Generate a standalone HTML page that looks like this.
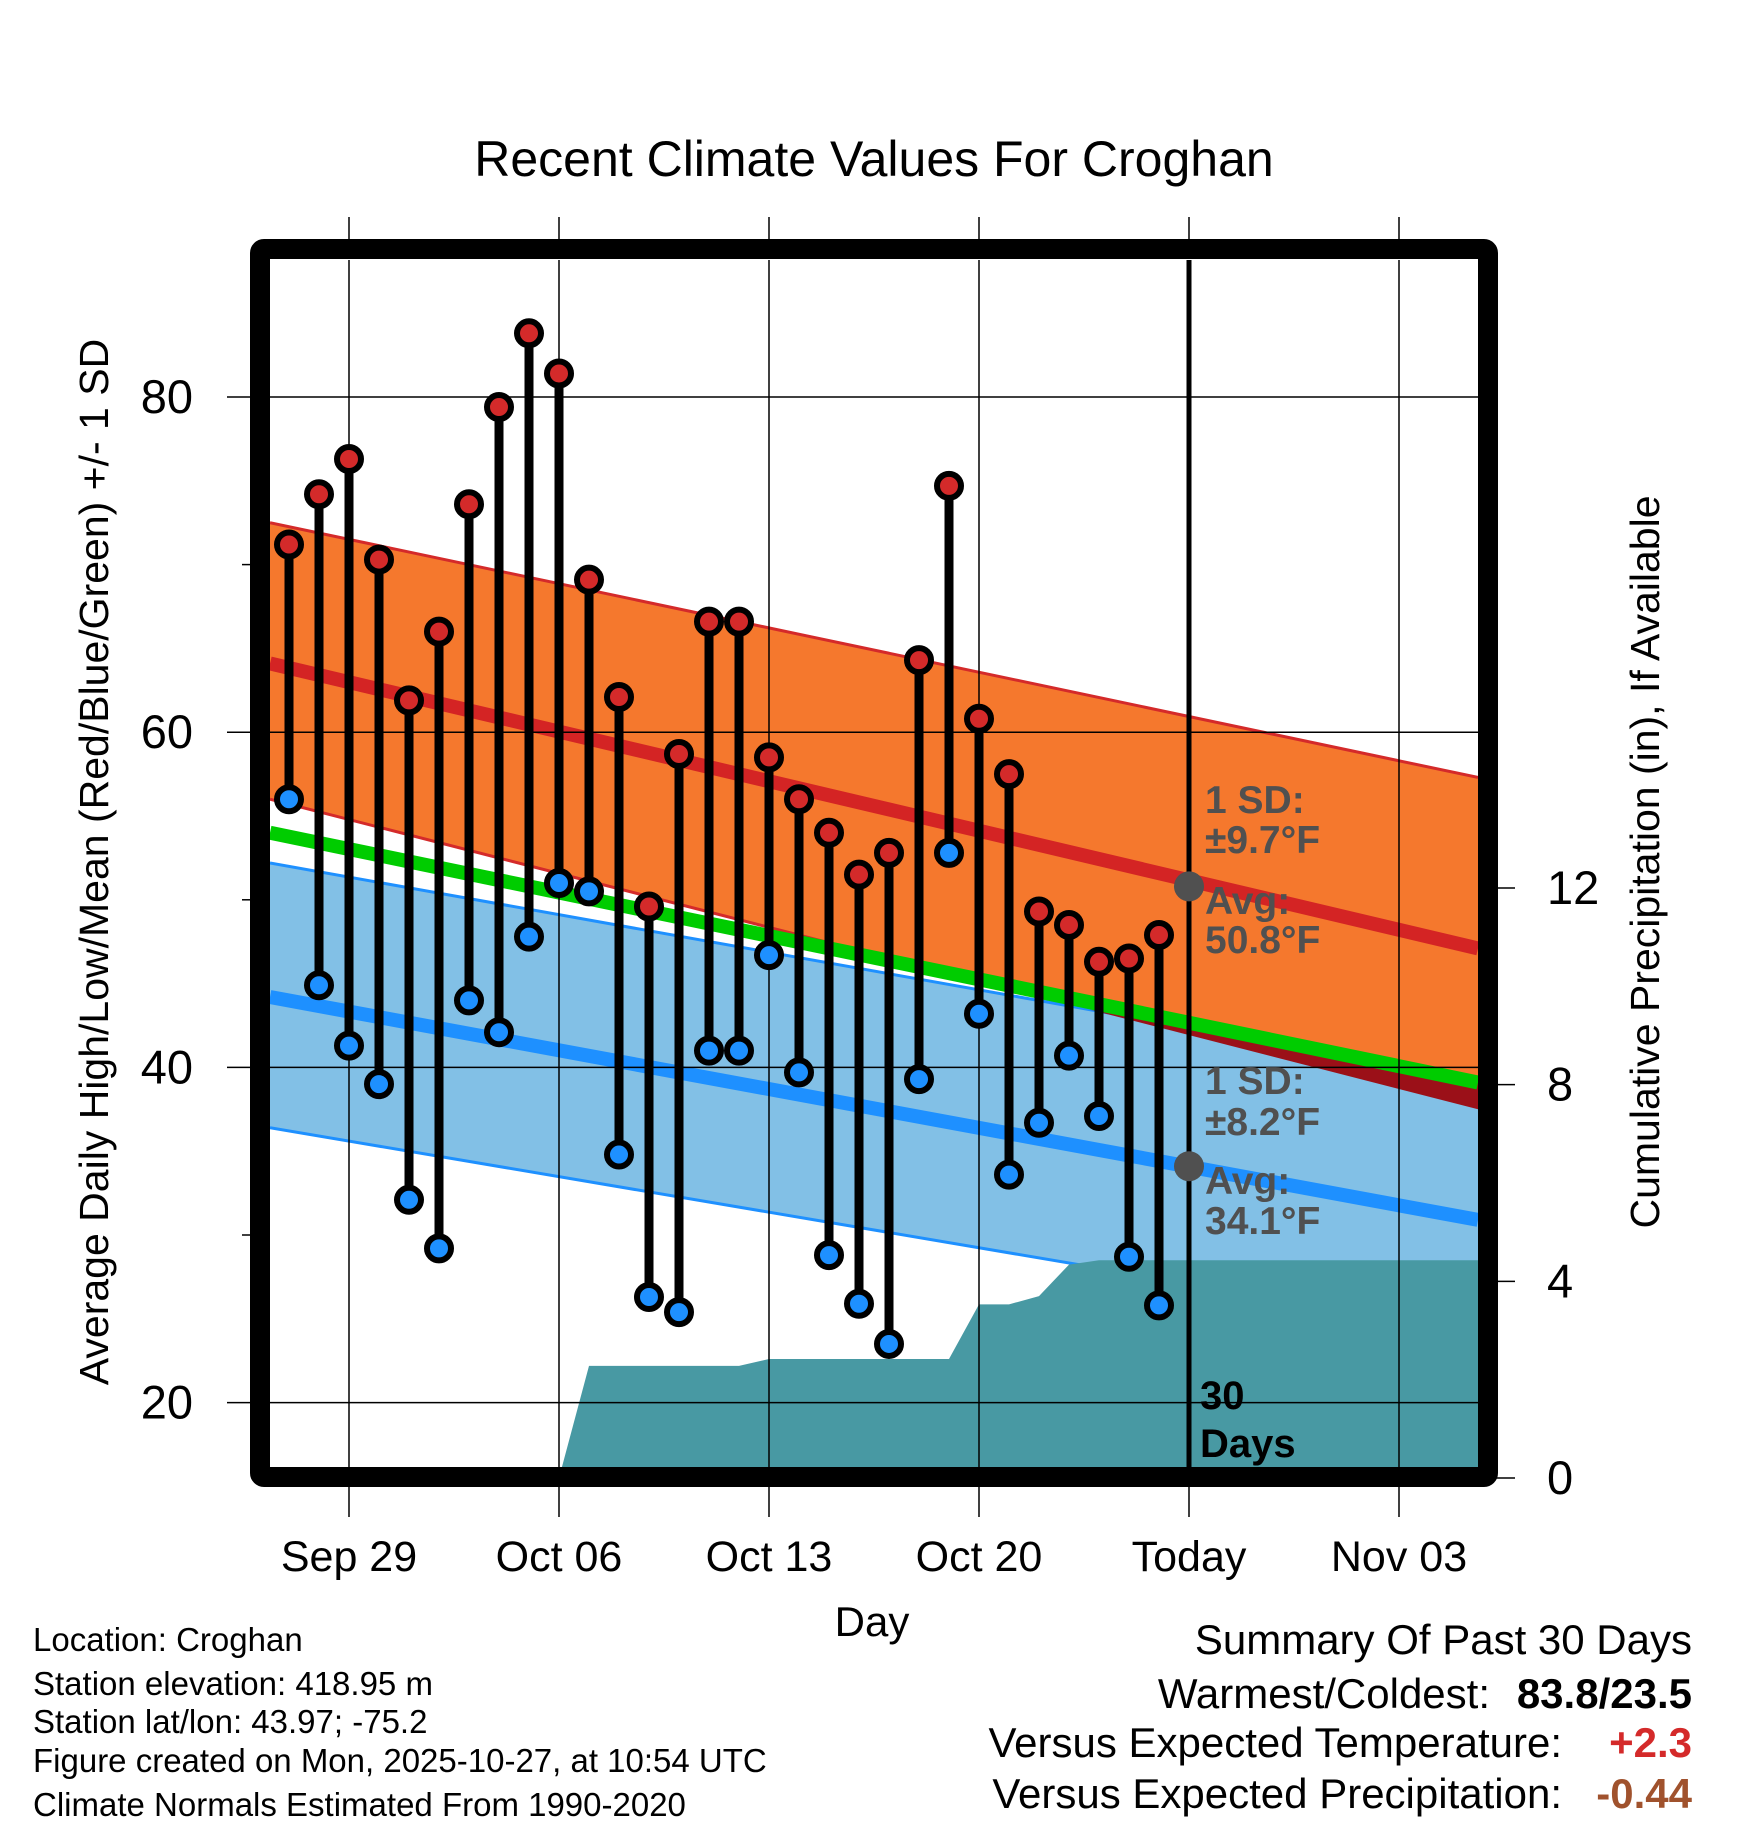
<!DOCTYPE html>
<html><head><meta charset="utf-8"><style>
html,body{margin:0;padding:0;background:#fff}
svg{display:block;font-family:"Liberation Sans",Arial,sans-serif}
</style></head><body>
<svg id="chart" width="1748" height="1828" viewBox="0 0 1748 1828" xmlns="http://www.w3.org/2000/svg">
<text x="874" y="176" font-size="50" text-anchor="middle">Recent Climate Values For Croghan</text>
<g id="plot"></g>
<text transform="translate(108,862) rotate(-90)" font-size="41" text-anchor="middle">Average Daily High/Low/Mean (Red/Blue/Green) +/- 1 SD</text>
<text transform="translate(1659,862) rotate(-90)" font-size="41" text-anchor="middle">Cumulative Precipitation (in), If Available</text>
<text x="872" y="1636" font-size="42" text-anchor="middle">Day</text>
<g font-size="33">
<text x="33" y="1651">Location: Croghan</text>
<text x="33" y="1695">Station elevation: 418.95 m</text>
<text x="33" y="1733">Station lat/lon: 43.97; -75.2</text>
<text x="33" y="1772">Figure created on Mon, 2025-10-27, at 10:54 UTC</text>
<text x="33" y="1816">Climate Normals Estimated From 1990-2020</text>
</g>
<g font-size="42" text-anchor="end">
<text x="1692" y="1654">Summary Of Past 30 Days</text>
<text x="1490" y="1708">Warmest/Coldest:</text>
<text x="1692" y="1708" font-weight="bold">83.8/23.5</text>
<text x="1562" y="1757">Versus Expected Temperature:</text>
<text x="1692" y="1757" font-weight="bold" fill="#d42a2a">+2.3</text>
<text x="1562" y="1808">Versus Expected Precipitation:</text>
<text x="1692" y="1808" font-weight="bold" fill="#a0522d">-0.44</text>
</g>
</svg>
<script>
const highs=[71.2,74.2,76.3,70.3,61.9,66.0,73.6,79.4,83.8,81.4,69.1,62.1,49.6,58.7,66.6,66.6,58.5,56.0,54.0,51.5,52.8,64.3,74.7,60.8,57.5,49.3,48.5,46.3,46.5,47.9];
const lows=[56.0,44.9,41.3,39.0,32.1,29.2,44.0,42.1,47.8,51.0,50.5,34.8,26.3,25.4,41.0,41.0,46.7,39.7,28.8,25.9,23.5,39.3,52.8,43.2,33.6,36.7,40.7,37.1,28.7,25.8];
const precip=[0,0,0,0,0,0,0,0,0,0,2.28,2.28,2.28,2.28,2.28,2.28,2.42,2.42,2.42,2.42,2.42,2.42,2.42,3.53,3.53,3.70,4.34,4.43,4.43,4.43];
// normals at [left edge, right edge] of plot
const normHigh=[64.1,47.1];
const normHighUpper=[72.5,57.3];
const normHighLower=[56.0,37.5];
const normLow=[44.2,30.9];
const normLowUpper=[52.2,39.3];
const normLowLower=[36.4,24.2];
const normMean=[54.0,39.1];
const todayHigh=50.8, todayLow=34.1;
const xTickDays=[2,9,16,23,30,37];
const xTickLabels=["Sep 29","Oct 06","Oct 13","Oct 20","Today","Nov 03"];
const yTicks=[20,40,60,80];
const yMinor=[30,50,70];
const pTicks=[0,4,8,12];

const NS="http://www.w3.org/2000/svg";
const L=270,R=1478,T=260,B=1468;
const X=d=>289+d*30;
const Y=v=>397+(80-v)*16.76;
const P=v=>1478-v*49.17;
const d0=(L-289)/30, d1=(R-289)/30, today=30;
const at=(arr,d)=>arr[0]+(arr[1]-arr[0])*(d-d0)/(d1-d0);
const plot=document.getElementById('plot');
function mk(tag,attrs,parent){const e=document.createElementNS(NS,tag);for(const k in attrs)e.setAttribute(k,attrs[k]);(parent||plot).appendChild(e);return e;}
const pts=(arr)=>arr.map(p=>p[0].toFixed(1)+','+p[1].toFixed(1)).join(' ');
const band=(up,lo,fill,g)=>mk('polygon',{points:pts([[X(d0),Y(up[0])],[X(d1),Y(up[1])],[X(d1),Y(lo[1])],[X(d0),Y(lo[0])]]),fill:fill},g);
const ln=(a,col,w,g)=>mk('line',{x1:X(d0),y1:Y(a[0]),x2:X(d1),y2:Y(a[1]),stroke:col,'stroke-width':w},g);

const clip=mk('clipPath',{id:'pc'});mk('rect',{x:L,y:T,width:R-L,height:B-T},clip);
const g=mk('g',{'clip-path':'url(#pc)'});
let e=band(normHighUpper,normHighLower,'#f5782d',g);


ln(normHighUpper,'#d42a2a',3,g);ln(normHighLower,'#d42a2a',3,g);
e=band(normLowUpper,normLowLower,'#82c0e6',g);


ln(normLowUpper,'#1e90ff',3,g);ln(normLowLower,'#1e90ff',3,g);
const a0=normHighLower[0]-normLowUpper[0], a1=normHighLower[1]-normLowUpper[1];
if(a1<0){const t=a0>0?a0/(a0-a1):0;const ds=d0+t*(d1-d0);
e=mk('polygon',{points:pts([[X(ds),Y(at(normLowUpper,ds))],[X(d1),Y(normLowUpper[1])],[X(d1),Y(normHighLower[1])],[X(ds),Y(at(normHighLower,ds))]]),fill:'#9b1018'},g);

}
const pp=[[X(d0),P(0)]];
precip.forEach((v,i)=>pp.push([X(i),P(v)]));
pp.push([X(d1),P(precip[precip.length-1])],[X(d1),P(0)]);
e=mk('polygon',{points:pts(pp),fill:'#4899a3'},g);


e=ln(normMean,'#00cc00',14,g);


e=ln(normHigh,'#d42424',14,g);


e=ln(normLow,'#1e90ff',14,g);


yTicks.forEach(v=>{if(Y(v)>T&&Y(v)<B){e=mk('line',{x1:L,y1:Y(v),x2:R,y2:Y(v),stroke:'#000','stroke-width':1.5},g);

}});
xTickDays.forEach(d=>{e=mk('line',{x1:X(d),y1:T,x2:X(d),y2:B,stroke:'#000','stroke-width':(d===today?5:1.5)},g);

});
highs.forEach((h,i)=>{
 e=mk('line',{x1:X(i),y1:Y(h),x2:X(i),y2:Y(lows[i]),stroke:'#000','stroke-width':9},g);
 
 
});
highs.forEach((h,i)=>{
 e=mk('circle',{cx:X(i),cy:Y(h),r:12,fill:'#d42a2a',stroke:'#000','stroke-width':6},g);
 
 
 e=mk('circle',{cx:X(i),cy:Y(lows[i]),r:12,fill:'#1e90ff',stroke:'#000','stroke-width':6},g);
 
 
});
[todayHigh,todayLow].forEach(v=>{e=mk('circle',{cx:X(today),cy:Y(v),r:15,fill:'#505050'},g);

});
const ann=[["1 SD:",813],["±9.7°F",853],["Avg:",914],["50.8°F",953],["1 SD:",1094],["±8.2°F",1135],["Avg:",1194],["34.1°F",1234]];
ann.forEach(a=>{e=mk('text',{x:1205,y:a[1],'font-size':39,'font-weight':'bold',fill:'#505050'},g);e.textContent=a[0];

});
[["30",1409],["Days",1457]].forEach(a=>{e=mk('text',{x:1200,y:a[1],'font-size':40,'font-weight':'bold',fill:'#000'},g);e.textContent=a[0];

});
e=mk('rect',{x:L-10,y:T-11,width:R-L+20,height:B-T+20,fill:'none',stroke:'#000','stroke-width':20,rx:4});


xTickDays.forEach((d,i)=>{
 e=mk('line',{x1:X(d),y1:217,x2:X(d),y2:T-15,stroke:'#000','stroke-width':1.5});
 e=mk('line',{x1:X(d),y1:B+15,x2:X(d),y2:1517,stroke:'#000','stroke-width':1.5});
 e=mk('text',{x:X(d),y:1571,'font-size':43,'text-anchor':'middle'});e.textContent=xTickLabels[i];
 
 
});
yTicks.forEach(v=>{const y=Y(v);
 e=mk('line',{x1:227,y1:y,x2:L-15,y2:y,stroke:'#000','stroke-width':1.5});
 e=mk('text',{x:193,y:y+16,'font-size':47,'text-anchor':'end'});e.textContent=v;
 
 
});
yMinor.forEach(v=>{e=mk('line',{x1:242,y1:Y(v),x2:L-15,y2:Y(v),stroke:'#000','stroke-width':1.5});});
pTicks.forEach(v=>{const y=P(v);
 e=mk('line',{x1:R+15,y1:y,x2:1515,y2:y,stroke:'#000','stroke-width':1.5});
 e=mk('text',{x:1547,y:y+16,'font-size':47});e.textContent=v;
 
 
});
</script>
</body></html>
